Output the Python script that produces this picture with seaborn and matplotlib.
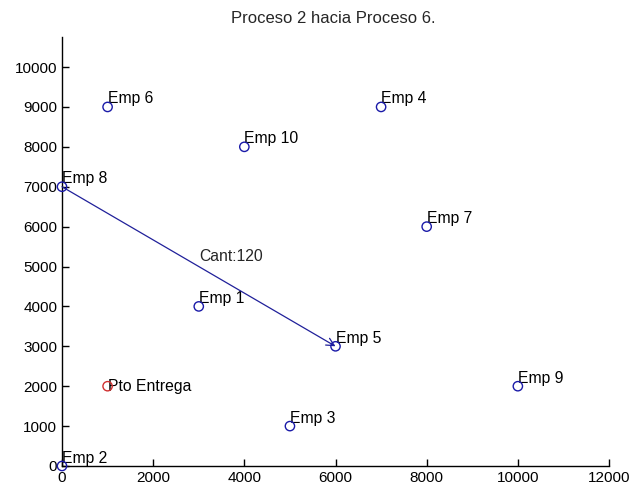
import matplotlib
matplotlib.use("Agg")
import matplotlib.pyplot as plt
import seaborn as sns
import pandas as pd

labels = ["Emp 1", "Emp 2", "Emp 3", "Emp 4", "Emp 5", "Emp 6", "Emp 7", "Emp 8", "Emp 9", "Emp 10"]
xs = [3000, 0, 5000, 7000, 6000, 1000, 8000, 0, 10000, 4000]
ys = [4000, 0, 1000, 9000, 3000, 9000, 6000, 7000, 2000, 8000]
depot_label = "Pto Entrega"
depot_x = [1000]
depot_y = [2000]
route_from = (0, 7000)
route_to = (6000, 3000)
route_label = "Cant:120"
route_label_pos = (3000, 5250)
title = "Proceso 2 hacia Proceso 6."
xticks = list(range(0, 12001, 2000))
yticks = list(range(0, 10001, 1000))

sns.set_style("white")
plt.rcParams['font.family'] = ['Liberation Sans', 'DejaVu Sans']

fig = plt.figure(figsize=(6.34, 4.95), dpi=100)
ax = fig.add_axes([0.0978, 0.0586, 0.8628, 0.8664])

blue = "#1a1aa8"
df = pd.DataFrame({"x": xs, "y": ys, "label": labels})
sns.scatterplot(data=df, x="x", y="y", ax=ax, marker="o", s=45,
                facecolors="none", edgecolor=blue, linewidth=1.0, legend=False,
                clip_on=False, zorder=5)
dd = pd.DataFrame({"x": depot_x, "y": depot_y})
sns.scatterplot(data=dd, x="x", y="y", ax=ax, marker="o", s=45,
                facecolors="none", edgecolor="#d03030", linewidth=1.0, legend=False,
                clip_on=False, zorder=5)

for lx, ly, lab in zip(xs, ys, labels):
    ax.text(lx, ly + 200, lab, ha="left", va="center", fontsize=11.3, color="black")
ax.text(depot_x[0], depot_y[0], depot_label, ha="left", va="center", fontsize=11.3, color="black")

ax.annotate("", xy=route_to, xytext=route_from,
            arrowprops=dict(arrowstyle="->", color="#20209a", lw=0.9,
                            shrinkA=0, shrinkB=0, mutation_scale=14))
ax.text(route_label_pos[0], route_label_pos[1], route_label, ha="left", va="center", fontsize=11.3)

ax.set_xlim(0, 12000)
ax.set_ylim(0, 10750)
ax.set_xticks(xticks)
ax.set_yticks(yticks)
ax.set_xlabel("")
ax.set_ylabel("")
ax.tick_params(direction="in", length=5, width=1, labelsize=11, colors="black",
               left=True, bottom=True)
for s in ["top", "right"]:
    ax.spines[s].set_visible(False)
for s in ["left", "bottom"]:
    ax.spines[s].set_color("black")
    ax.spines[s].set_linewidth(1)
ax.set_title(title, fontsize=12, x=0.495, pad=10)

fig.savefig("out.png", dpi=100)
